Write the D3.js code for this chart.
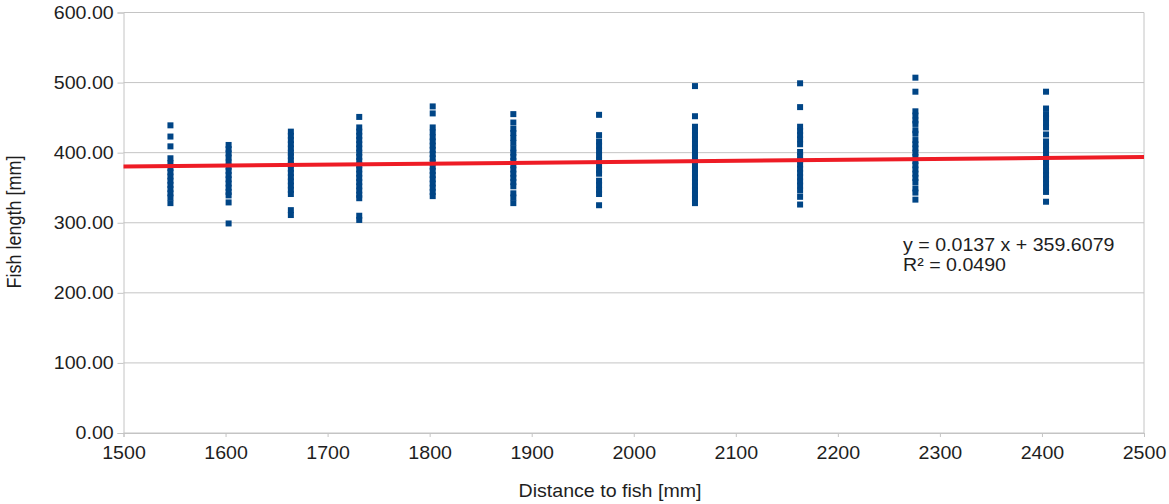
<!DOCTYPE html>
<html>
<head>
<meta charset="utf-8">
<script src="https://cdn.jsdelivr.net/npm/d3@7/dist/d3.min.js"></script>
<style>
  html, body { margin: 0; padding: 0; background: #fff; }
  svg { display: block; font-family: "Liberation Sans", Arial, sans-serif; }
</style>
</head>
<body>
<svg id="chart" width="1169" height="504"></svg>
<script>
// Measurement distances (mm) at which fish were filmed
const distances = [1546, 1603, 1664, 1731, 1803, 1882, 1966, 2060, 2163, 2276, 2404];

// Measured fish lengths (mm) at each distance
const lengths1546 = [439, 423, 409, 392, 385, 378, 372, 366, 360, 354, 348, 342, 336, 328];
const lengths1603 = [411, 405, 399, 393, 386, 380, 374, 368, 362, 356, 350, 344, 339, 329, 299];
const lengths1664 = [430, 424, 418, 412, 406, 400, 395, 389, 383, 377, 371, 365, 359, 353, 347, 341, 318, 311];
const lengths1731 = [451, 436, 430, 424, 418, 412, 406, 400, 394, 388, 382, 376, 370, 364, 358, 352, 346, 340, 335, 310, 304];
const lengths1803 = [466, 456, 436, 429, 422, 416, 410, 404, 398, 392, 386, 380, 374, 368, 362, 356, 350, 344, 338];
const lengths1882 = [455, 443, 434, 428, 421, 414, 406, 400, 394, 388, 382, 376, 370, 364, 358, 352, 342, 336, 328];
const lengths1966 = [454, 425, 416, 410, 403, 396, 389, 382, 375, 370, 360, 354, 347, 341, 325];
const lengths2060 = [495, 452, 437, 431, 425, 419, 412, 406, 400, 394, 388, 382, 376, 370, 364, 358, 352, 346, 340, 334, 328];
const lengths2163 = [499, 465, 437, 431, 425, 419, 412, 401, 395, 389, 383, 377, 371, 365, 359, 353, 346, 337, 326];
const lengths2276 = [507, 487, 459, 453, 446, 441, 432, 427, 418, 412, 406, 400, 394, 388, 382, 376, 370, 364, 358, 349, 343, 333];
const lengths2404 = [487, 463, 455, 449, 442, 436, 426, 416, 410, 404, 398, 392, 386, 380, 374, 368, 362, 356, 350, 344, 330];

const lengthSets = [lengths1546, lengths1603, lengths1664, lengths1731, lengths1803, lengths1882,
                    lengths1966, lengths2060, lengths2163, lengths2276, lengths2404];

// Linear trend: y = slope * x + intercept
const trendCoef = [0.0137, 359.6079];
const trendLabel = ["y = 0.0137 x + 359.6079", "R² = 0.0490"];

const xTicks = [1500, 1600, 1700, 1800, 1900, 2000, 2100, 2200, 2300, 2400, 2500];
const yTicks = [0, 100, 200, 300, 400, 500, 600];

const points = [];
distances.forEach((d, i) => lengthSets[i].forEach(v => points.push({ x: d, y: v })));

const svg = d3.select("#chart");
const plotL = 123.5, plotR = 1144, plotT = 12.5, plotB = 433;
const stretch = 1.09;

const x = d3.scaleLinear().domain([1500, 2500]).range([plotL, plotR]);
const y = d3.scaleLinear().domain([0, 600]).range([plotB, plotT]);

const gridColor = "#c4c4c4";
const textColor = "#1e1e1e";

// Horizontal gridlines
svg.append("g")
  .selectAll("line")
  .data(yTicks)
  .join("line")
  .attr("x1", plotL).attr("x2", plotR)
  .attr("y1", d => y(d)).attr("y2", d => y(d))
  .attr("stroke", gridColor).attr("stroke-width", 1);

// Right border of the plot area
svg.append("line")
  .attr("x1", plotR).attr("x2", plotR)
  .attr("y1", plotT).attr("y2", plotB)
  .attr("stroke", gridColor);

// Y axis
const yAxis = svg.append("g")
  .attr("transform", `translate(${plotL},0)`)
  .call(d3.axisLeft(y).tickValues(yTicks).tickFormat(d3.format(".2f")).tickSize(6).tickPadding(3));
yAxis.select(".domain").attr("stroke", gridColor);
yAxis.selectAll(".tick line").attr("stroke", gridColor);
yAxis.selectAll("text")
  .attr("font-size", 18).attr("fill", textColor)
  .attr("font-family", "Liberation Sans, Arial, sans-serif")
  .attr("transform", `scale(${stretch},1)`);

// X axis
const xAxis = svg.append("g")
  .attr("transform", `translate(0,${plotB})`)
  .call(d3.axisBottom(x).tickValues(xTicks).tickFormat(d3.format("d")).tickSize(4).tickPadding(9));
xAxis.select(".domain").attr("stroke", gridColor);
xAxis.selectAll(".tick line").attr("stroke", gridColor);
xAxis.selectAll("text")
  .attr("font-size", 18).attr("fill", textColor)
  .attr("font-family", "Liberation Sans, Arial, sans-serif")
  .attr("transform", `scale(${stretch},1)`);

// Data points
const m = 6;
svg.append("g")
  .selectAll("rect")
  .data(points)
  .join("rect")
  .attr("x", d => x(d.x) - m / 2)
  .attr("y", d => y(d.y) - m / 2)
  .attr("width", m).attr("height", m)
  .attr("fill", "#004586");

// Trend line across the whole x range
const trend = x.domain().map(v => ({ x: v, y: trendCoef[0] * v + trendCoef[1] }));
svg.append("path")
  .datum(trend)
  .attr("d", d3.line().x(d => x(d.x)).y(d => y(d.y)))
  .attr("fill", "none")
  .attr("stroke", "#ee1c25")
  .attr("stroke-width", 4);

// Trend equation
trendLabel.forEach((t, i) => {
  svg.append("text")
    .attr("transform", `translate(903,${251 + i * 20}) scale(${stretch},1)`)
    .attr("font-size", 18).attr("fill", textColor)
    .text(t);
});

// Axis titles
svg.append("text")
  .attr("transform", `translate(610,497) scale(${stretch},1)`)
  .attr("text-anchor", "middle")
  .attr("font-size", 18).attr("fill", textColor)
  .text("Distance to fish [mm]");

svg.append("text")
  .attr("transform", `translate(21,222) rotate(-90) scale(1,${stretch})`)
  .attr("text-anchor", "middle")
  .attr("font-size", 18).attr("fill", textColor)
  .text("Fish length [mm]");
</script>
</body>
</html>
